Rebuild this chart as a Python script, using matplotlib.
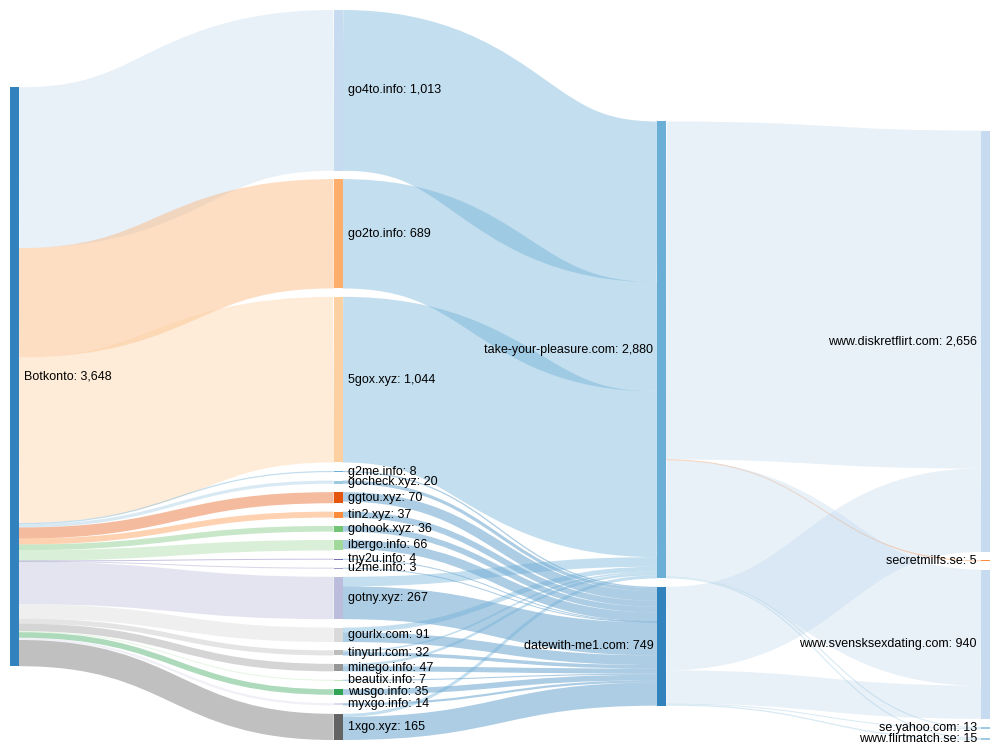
import numpy as np
import matplotlib
matplotlib.use("Agg")
import matplotlib.pyplot as plt
from matplotlib.path import Path
from matplotlib.patches import PathPatch, Rectangle

# noeuds par colonne
col0 = ["Botkonto"]
col1 = ["go4to.info", "go2to.info", "5gox.xyz", "g2me.info", "gocheck.xyz", "ggtou.xyz",
        "tin2.xyz", "gohook.xyz", "ibergo.info", "tny2u.info", "u2me.info", "gotny.xyz",
        "gourlx.com", "tinyurl.com", "minego.info", "beautix.info", "wusgo.info",
        "myxgo.info", "1xgo.xyz"]
col1_values = [1013, 689, 1044, 8, 20, 70, 37, 36, 66, 4, 3, 267, 91, 32, 47, 7, 35, 14, 165]
col2 = ["take-your-pleasure.com", "datewith-me1.com"]
col3 = ["www.diskretflirt.com", "secretmilfs.se", "www.svensksexdating.com",
        "se.yahoo.com", "www.flirtmatch.se"]

# flux colonne 1 -> colonne 2
to_take = [1013, 689, 1044, 0, 0, 0, 0, 0, 0, 0, 0, 60, 30, 10, 15, 0, 0, 0, 19]
to_date = [0, 0, 0, 8, 20, 60, 37, 36, 57, 4, 3, 207, 61, 22, 32, 7, 35, 14, 146]
# flux colonne 2 -> colonne 3
from_take = [2130, 5, 731, 7, 7]
from_date = [526, 0, 209, 6, 8]

node_colors = {
    "Botkonto": "#3182bd",
    "go4to.info": "#c6dbef", "go2to.info": "#fdae6b", "5gox.xyz": "#fdd0a2",
    "g2me.info": "#6baed6", "gocheck.xyz": "#9ecae1", "ggtou.xyz": "#e6550d",
    "tin2.xyz": "#fd8d3c", "gohook.xyz": "#74c476", "ibergo.info": "#a1d99b",
    "tny2u.info": "#756bb1", "u2me.info": "#9e9ac8", "gotny.xyz": "#bcbddc",
    "gourlx.com": "#d9d9d9", "tinyurl.com": "#bdbdbd", "minego.info": "#969696",
    "beautix.info": "#c7e9c0", "wusgo.info": "#31a354", "myxgo.info": "#dadaeb",
    "1xgo.xyz": "#636363",
    "take-your-pleasure.com": "#6baed6", "datewith-me1.com": "#3182bd",
    "www.diskretflirt.com": "#c6dbef", "secretmilfs.se": "#fd8d3c",
    "www.svensksexdating.com": "#c6dbef", "se.yahoo.com": "#9ecae1",
    "www.flirtmatch.se": "#9ecae1",
}

# construction des liens
links = []
for name, v in zip(col1, col1_values):
    links.append(("Botkonto", name, v))
for name, a, b in zip(col1, to_take, to_date):
    if a:
        links.append((name, col2[0], a))
    if b:
        links.append((name, col2[1], b))
for name, a, b in zip(col3, from_take, from_date):
    if a:
        links.append((col2[0], name, a))
    if b:
        links.append((col2[1], name, b))

columns = [col0, col1, col2, col3]
col_of = {n: i for i, c in enumerate(columns) for n in c}

# geometrie (pixels)
X0, Y0, WIDTH, HEIGHT = 10, 10, 980, 730
NODE_W, PAD = 9, 8.4
ITER = 64

out_sum = {n: 0 for n in col_of}
in_sum = {n: 0 for n in col_of}
for s, t, v in links:
    out_sum[s] += v
    in_sum[t] += v
value = {n: max(in_sum[n], out_sum[n]) for n in col_of}

ky = min((HEIGHT - (len(c) - 1) * PAD) / sum(value[n] for n in c) for c in columns)
dy = {n: value[n] * ky for n in col_of}
ypos = {n: float(i) for c in columns for i, n in enumerate(c)}
kx = (WIDTH - NODE_W) / (len(columns) - 1)
xpos = {n: X0 + col_of[n] * kx for n in col_of}


def center(n):
    return ypos[n] + dy[n] / 2


def resolve():
    # ordre des noeuds garde tel quel
    for c in columns:
        y0 = 0
        for n in c:
            d = y0 - ypos[n]
            if d > 0:
                ypos[n] += d
            y0 = ypos[n] + dy[n] + PAD
        d = y0 - PAD - HEIGHT
        if d > 0:
            ypos[c[-1]] -= d
            y0 = ypos[c[-1]]
            for n in reversed(c[:-1]):
                d = ypos[n] + dy[n] + PAD - y0
                if d > 0:
                    ypos[n] -= d
                y0 = ypos[n]


# relaxation (d3-sankey classique)
resolve()
alpha = 1.0
for _ in range(ITER):
    alpha *= 0.99
    for c in reversed(columns):
        for n in c:
            outs = [(t, v) for s, t, v in links if s == n]
            if outs:
                yc = sum(center(t) * v for t, v in outs) / sum(v for t, v in outs)
                ypos[n] += (yc - center(n)) * alpha
    resolve()
    for c in columns:
        for n in c:
            ins = [(s, v) for s, t, v in links if t == n]
            if ins:
                yc = sum(center(s) * v for s, v in ins) / sum(v for s, v in ins)
                ypos[n] += (yc - center(n)) * alpha
    resolve()

# position des liens dans les noeuds
sy, ty = {}, {}
for n in col_of:
    outs = sorted([l for l in links if l[0] == n], key=lambda l: ypos[l[1]])
    acc = 0
    for l in outs:
        sy[l] = acc
        acc += l[2] * ky
    ins = sorted([l for l in links if l[1] == n], key=lambda l: ypos[l[0]])
    acc = 0
    for l in ins:
        ty[l] = acc
        acc += l[2] * ky

fig = plt.figure(figsize=(10, 7.5), dpi=100)
ax = fig.add_axes([0, 0, 1, 1])
ax.set_xlim(0, 1000)
ax.set_ylim(750, 0)
ax.axis("off")

for l in links:
    s, t, v = l
    w = v * ky
    xa = xpos[s] + NODE_W
    xb = xpos[t]
    ya = Y0 + ypos[s] + sy[l] + w / 2
    yb = Y0 + ypos[t] + ty[l] + w / 2
    xm = (xa + xb) / 2
    path = Path([(xa, ya), (xm, ya), (xm, yb), (xb, yb)],
                [Path.MOVETO, Path.CURVE4, Path.CURVE4, Path.CURVE4])
    ax.add_patch(PathPatch(path, fill=False, edgecolor=node_colors[t], alpha=0.4,
                           lw=max(1, w) * 0.72, capstyle="butt"))

for n in col_of:
    ax.add_patch(Rectangle((xpos[n], Y0 + ypos[n]), NODE_W, max(dy[n], 1),
                           facecolor=node_colors[n], edgecolor="none"))
    label = f"{n}: {value[n]:,}"
    yc = Y0 + center(n)
    if xpos[n] > 500:
        ax.text(xpos[n] - 4, yc, label, ha="right", va="center",
                fontsize=9, family="Liberation Sans", color="#000000")
    else:
        ax.text(xpos[n] + NODE_W + 5, yc, label, ha="left", va="center",
                fontsize=9, family="Liberation Sans", color="#000000")

fig.savefig("out.png", dpi=100, facecolor="white")
